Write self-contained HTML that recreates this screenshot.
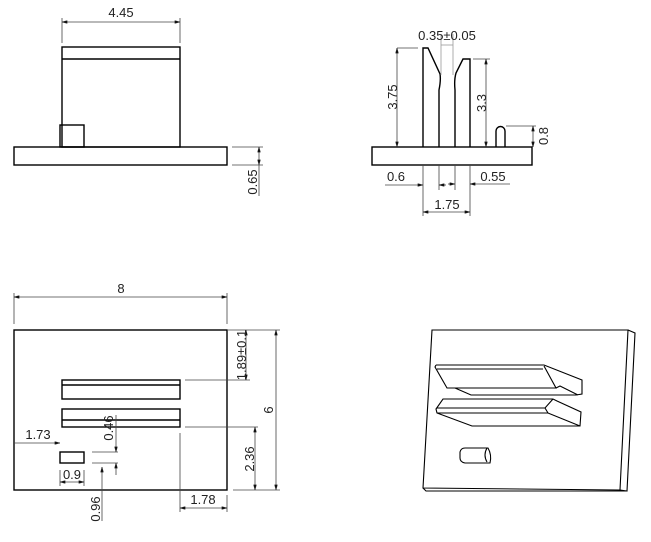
<!DOCTYPE html>
<html><head><meta charset="utf-8"><style>
html,body{margin:0;padding:0;background:#fff;}
svg{display:block;}
text{font-family:"Liberation Sans",sans-serif;font-size:13px;fill:#222;}
</style></head><body>
<svg width="651" height="542" viewBox="0 0 651 542" xmlns="http://www.w3.org/2000/svg">
<defs>
<marker id="a" viewBox="0 0 10 6" refX="10" refY="3" markerWidth="8" markerHeight="4" orient="auto-start-reverse"><path d="M0,0 L10,3 L0,6" fill="#111" stroke="#111" stroke-width="0.5"/></marker>
</defs>
<g fill="none" stroke="#000" stroke-width="1.4">
<!-- top-left view -->
<rect x="14" y="147" width="213" height="18"/>
<rect x="62" y="47" width="118" height="100"/>
<line x1="62" y1="59" x2="180" y2="59"/>
<rect x="60" y="125" width="24" height="22"/>
<!-- top-right view -->
<rect x="372" y="147" width="160" height="18"/>
<path d="M423,147 V48 H428 L440,74 Q441,80 439,90 V147"/>
<path d="M470,147 V59 H463 L456,73 Q454,80 455,90 V147"/>
<path d="M496,147 V131 A4.5,4.5 0 0 1 505,131 V147"/>
<!-- bottom-left view -->
<rect x="14" y="330" width="213" height="160"/>
<rect x="62" y="380" width="118" height="19"/>
<line x1="62" y1="385" x2="180" y2="385"/>
<rect x="62" y="409" width="118" height="18"/>
<line x1="62" y1="420" x2="180" y2="420"/>
<rect x="60" y="452" width="24" height="11"/>
</g>
<g fill="none" stroke="#444" stroke-width="0.8">
<!-- dims top-left -->
<line x1="62" y1="18" x2="62" y2="43"/><line x1="180" y1="18" x2="180" y2="43"/>
<line x1="62" y1="22" x2="180" y2="22" marker-start="url(#a)" marker-end="url(#a)"/>
<line x1="232" y1="147" x2="263" y2="147"/><line x1="232" y1="165" x2="263" y2="165"/>
<line x1="259" y1="147" x2="259" y2="165" marker-start="url(#a)" marker-end="url(#a)"/>
<line x1="259" y1="165" x2="259" y2="196"/>
<!-- dims top-right -->
<line x1="397" y1="48" x2="418" y2="48"/>
<line x1="397" y1="48" x2="397" y2="147" marker-start="url(#a)" marker-end="url(#a)"/>
<line x1="473" y1="59" x2="490" y2="59"/>
<line x1="486" y1="59" x2="486" y2="147" marker-start="url(#a)" marker-end="url(#a)"/>
<line x1="506" y1="126" x2="536" y2="126"/>
<line x1="533" y1="126" x2="533" y2="147" marker-start="url(#a)" marker-end="url(#a)"/>
<line x1="441" y1="34" x2="441" y2="75" stroke="#999"/><line x1="453" y1="34" x2="453" y2="75" stroke="#999"/>
<line x1="441" y1="45" x2="453" y2="45" stroke="#999"/>
<line x1="423" y1="165" x2="423" y2="216"/><line x1="439" y1="165" x2="439" y2="190"/>
<line x1="455" y1="165" x2="455" y2="190"/><line x1="470" y1="165" x2="470" y2="216"/>
<line x1="385" y1="185" x2="423" y2="185" marker-end="url(#a)"/>
<line x1="439" y1="185" x2="446" y2="185" marker-start="url(#a)"/>
<line x1="448" y1="184" x2="455" y2="184" marker-end="url(#a)"/>
<line x1="470" y1="184" x2="510" y2="184" marker-start="url(#a)"/>
<line x1="423" y1="212" x2="470" y2="212" marker-start="url(#a)" marker-end="url(#a)"/>
<!-- dims bottom-left -->
<line x1="14" y1="293" x2="14" y2="324"/><line x1="227" y1="293" x2="227" y2="324"/>
<line x1="14" y1="297" x2="227" y2="297" marker-start="url(#a)" marker-end="url(#a)"/>
<line x1="228" y1="330" x2="280" y2="330"/>
<line x1="185" y1="380" x2="250" y2="380"/>
<line x1="246" y1="330" x2="246" y2="380" marker-start="url(#a)" marker-end="url(#a)"/>
<line x1="276" y1="330" x2="276" y2="490" marker-start="url(#a)" marker-end="url(#a)"/>
<line x1="233" y1="490" x2="280" y2="490"/>
<line x1="185" y1="427" x2="258" y2="427"/>
<line x1="255" y1="427" x2="255" y2="490" marker-start="url(#a)" marker-end="url(#a)"/>
<line x1="180" y1="433" x2="180" y2="512"/><line x1="227" y1="495" x2="227" y2="512"/>
<line x1="180" y1="508" x2="227" y2="508" marker-start="url(#a)" marker-end="url(#a)"/>
<line x1="14" y1="443" x2="60" y2="443" marker-end="url(#a)"/>
<line x1="92" y1="452" x2="118" y2="452"/><line x1="92" y1="463" x2="118" y2="463"/>
<line x1="116" y1="415" x2="116" y2="452" marker-end="url(#a)"/>
<line x1="116" y1="463" x2="116" y2="475" marker-start="url(#a)"/>
<line x1="60" y1="470" x2="60" y2="486"/><line x1="84" y1="470" x2="84" y2="486"/>
<line x1="60" y1="482" x2="84" y2="482" marker-start="url(#a)" marker-end="url(#a)"/>
<line x1="102" y1="467" x2="102" y2="521" marker-start="url(#a)"/>
</g>
<!-- iso view -->
<g fill="none" stroke="#000" stroke-width="1.1">
<path d="M432,330 L628,330 L620,490 L423,488 Z"/>
<path d="M628,330 L635,333 L627,491 L620,490"/>
<path d="M423,488 L426,491 L627,491"/>
<path d="M436,365 L544,365 L582,380 L582,394 L576,395 L471,395 L455,388 M437,369 L543,369 M436,365 L435,367 L447,388 L556,388 L544,366 M556,388 L560,386 L578,395"/>
<path d="M443,399 L553,399 L557,401 L581,412 L580,426 L472,426 L437,413 L436,409 Z M437,408 L545,408 L553,399 M437,413 L548,413 L580,426 M545,408 L548,413"/>
<path d="M465,448 L488,448 Q492,455 490,463 L465,463 Q460,462 460,458 L460,452 Q461,448 465,448 Z M487,448 Q483,455 487,462"/>
</g>
<!-- labels -->
<text x="121" y="17" text-anchor="middle">4.45</text>
<text transform="translate(257,182) rotate(-90)" text-anchor="middle">0.65</text>
<text x="447" y="40" text-anchor="middle">0.35±0.05</text>
<text transform="translate(397,97) rotate(-90)" text-anchor="middle">3.75</text>
<text transform="translate(486,103) rotate(-90)" text-anchor="middle">3.3</text>
<text transform="translate(548,136) rotate(-90)" text-anchor="middle">0.8</text>
<text x="396" y="181" text-anchor="middle">0.6</text>
<text x="493" y="181" text-anchor="middle">0.55</text>
<text x="447" y="209" text-anchor="middle">1.75</text>
<text x="121" y="293" text-anchor="middle">8</text>
<text transform="translate(246,355) rotate(-90)" text-anchor="middle">1.89±0.1</text>
<text transform="translate(273,410) rotate(-90)" text-anchor="middle">6</text>
<text transform="translate(254,459) rotate(-90)" text-anchor="middle">2.36</text>
<text x="203" y="504" text-anchor="middle">1.78</text>
<text x="38" y="439" text-anchor="middle">1.73</text>
<text transform="translate(113,428) rotate(-90)" text-anchor="middle">0.46</text>
<text x="72" y="479" text-anchor="middle">0.9</text>
<text transform="translate(100,509) rotate(-90)" text-anchor="middle">0.96</text>
</svg>
</body></html>
